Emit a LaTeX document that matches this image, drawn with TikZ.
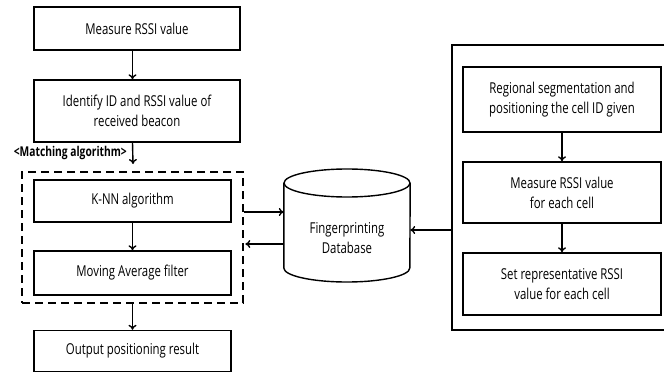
\documentclass[tikz,border=0pt]{standalone}
\usepackage{fontspec}
\setmainfont{Open Sans}[FakeStretch=0.76]
\usetikzlibrary{arrows.meta,fit}
\begin{document}
\begin{tikzpicture}[x=1pt,y=1pt,
  box/.style={draw, line width=1.4pt, align=center, inner sep=0pt,
    font=\fontsize{15}{20}\selectfont},
  arr/.style={line width=1.4pt, -{To[length=5pt,width=8pt]}},
  plain/.style={line width=1.4pt},
  grpbox/.style={draw, line width=1.7pt, dash pattern=on 8pt off 5pt, inner sep=0pt}]
\useasboundingbox (0,0) rectangle (668,-374);
% left column
\node[box, minimum width=206pt, minimum height=43pt] (b1) at (137,-28.5) {Measure RSSI value};
\node[box, minimum width=206pt, minimum height=62pt] (b2) at (137,-111) {Identify ID and RSSI value of\\received beacon};
\node[box, minimum width=197pt, minimum height=42pt] (knn) at (132.5,-201) {K-NN algorithm};
\node[box, minimum width=197pt, minimum height=44pt] (mav) at (132.5,-273) {Moving Average filter};
\node[box, minimum width=197pt, minimum height=41pt] (out) at (132.5,-351) {Output positioning result};
\coordinate (gtl) at (22,-172);
\coordinate (gbr) at (243,-303);
\node[grpbox, fit=(gtl)(gbr)] (grp) {};
\coordinate (mtip) at (133,-164);
\node[anchor=east, inner sep=0pt, font=\fontsize{13.5}{15}\selectfont\bfseries] (mlab) at (127,-153) {<Matching algorithm>};
\draw[arr] (b1.south -| knn) -- (b2.north -| knn);
\draw[arr] (b2.south -| knn) -- (mtip);
\draw[arr] (knn) -- (mav);
\draw[arr] (grp.south -| knn) -- (out);
% database
\node[minimum width=126pt, minimum height=113pt, inner sep=0pt] (db) at (347,-225.5) {};
\draw[plain] (347,-183) ellipse [x radius=63, y radius=14];
\draw[plain] (db.west |- 0,-183) -- (db.west |- 0,-268) arc[start angle=180, end angle=360, x radius=63, y radius=14] -- (db.east |- 0,-183);
\node[align=center, inner sep=0pt, font=\fontsize{15}{20}\selectfont] (dbt) at (347,-238) {Fingerprinting\\Database};
\draw[arr] (grp.east |- 0,-212) -- (db.west |- 0,-212);
\draw[arr] (db.west |- 0,-244) -- ([xshift=1.5pt]grp.east |- 0,-244);
% right column (open on the right: cut by the picture edge)
\draw[plain] (664,-45) -- (452,-45) -- (452,-330) -- (664,-330);
\coordinate (ol) at (452,-230);
\node[box, minimum width=198pt, minimum height=65pt] (r1) at (562,-99.5) {Regional segmentation and\\positioning the cell ID given};
\node[box, minimum width=198pt, minimum height=61pt] (r2) at (562,-192.5) {Measure RSSI value\\for each cell};
\node[box, minimum width=198pt, minimum height=62pt] (r3) at (562,-284) {Set representative RSSI\\value for each cell};
\draw[arr] (r1) -- (r2);
\draw[arr] (r2) -- (r3);
\draw[arr] (ol) -- (db.east |- ol);
\end{tikzpicture}
\end{document}
